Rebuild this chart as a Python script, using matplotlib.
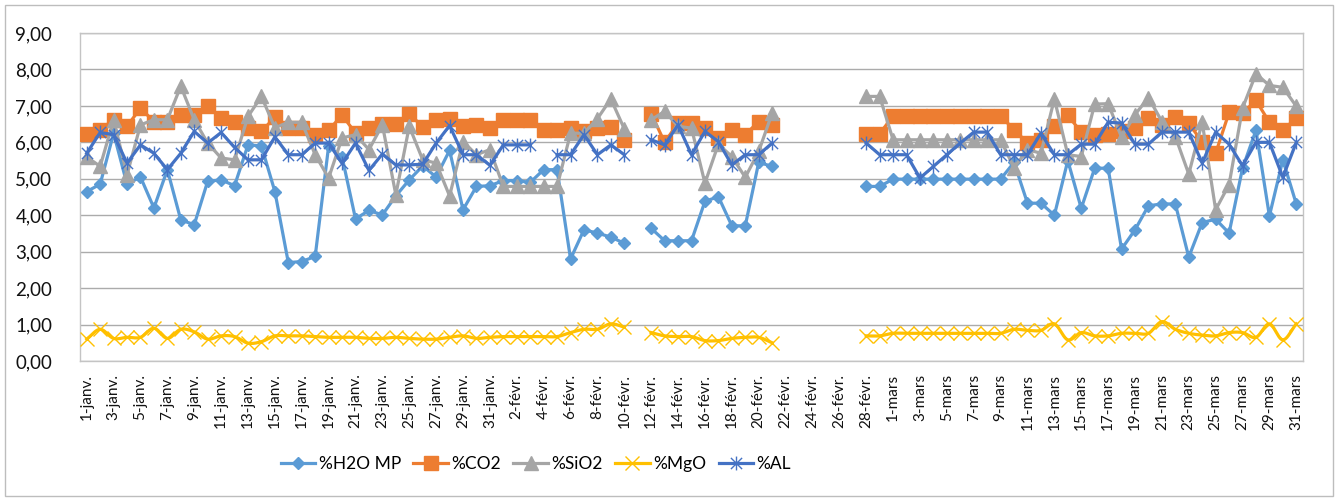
import numpy as np
import pandas as pd
import matplotlib
matplotlib.use("Agg")
import matplotlib.pyplot as plt
from matplotlib.path import Path
from matplotlib.patches import Rectangle
from matplotlib.lines import Line2D

plt.rcParams['font.family'] = ['Lato', 'DejaVu Sans']

nan = np.nan

# Daily categories, 1 Jan - 31 Mar 2024
dates = pd.date_range("2024-01-01", "2024-03-31", freq="D")
month_abbr = {1: "janv.", 2: "févr.", 3: "mars"}
day_labels = [f"{d.day}-{month_abbr[d.month]}" for d in dates]

h2o_mp = [4.65, 4.85, 6.25, 4.85, 5.05, 4.20, 5.25, 3.87, 3.74, 4.93,
          4.97, 4.81, 5.93, 5.90, 4.65, 2.70, 2.73, 2.87, 5.90, 5.60,
          3.90, 4.13, 4.01, 4.53, 4.97, 5.35, 5.05, 5.78, 4.15, 4.79,
          4.81, 4.95, 4.95, 4.90, 5.25, 5.25, 2.80, 3.60, 3.51, 3.40,
          3.23, nan, 3.64, 3.30, 3.30, 3.30, 4.38, 4.51, 3.71, 3.71,
          5.45, 5.34, nan, nan, nan, nan, nan, nan, 4.79, 4.79,
          4.99, 4.99, 4.99, 4.99, 4.99, 4.99, 4.99, 4.99, 4.99, 5.45,
          4.33, 4.33, 4.00, 5.50, 4.19, 5.29, 5.29, 3.07, 3.60, 4.26,
          4.31, 4.31, 2.85, 3.80, 3.89, 3.51, 5.29, 6.33, 3.98, 5.52,
          4.31]

co2 = [6.24, 6.35, 6.62, 6.44, 6.94, 6.57, 6.57, 6.76, 6.76, 6.99,
       6.67, 6.57, 6.40, 6.30, 6.69, 6.38, 6.38, 6.21, 6.33, 6.75,
       6.25, 6.39, 6.50, 6.50, 6.79, 6.42, 6.62, 6.64, 6.44, 6.48,
       6.39, 6.60, 6.60, 6.60, 6.35, 6.35, 6.39, 6.30, 6.39, 6.42,
       6.07, nan, 6.79, 6.00, 6.53, 6.53, 6.39, 6.12, 6.35, 6.21,
       6.57, 6.48, nan, nan, nan, nan, nan, nan, 6.24, 6.24,
       6.72, 6.72, 6.72, 6.72, 6.72, 6.72, 6.72, 6.72, 6.72, 6.35,
       5.98, 6.07, 6.44, 6.74, 6.28, 6.21, 6.23, 6.30, 6.40, 6.67,
       6.48, 6.69, 6.53, 6.00, 5.70, 6.82, 6.80, 7.15, 6.55, 6.33,
       6.67]

sio2 = [5.60, 5.34, 6.62, 5.11, 6.48, 6.62, 6.62, 7.54, 6.62, 5.98,
        5.57, 5.52, 6.71, 7.26, 6.40, 6.55, 6.55, 5.66, 5.02, 6.12,
        6.21, 5.80, 6.48, 4.56, 6.44, 5.52, 5.43, 4.53, 6.02, 5.66,
        5.80, 4.79, 4.79, 4.79, 4.79, 4.79, 6.25, 6.25, 6.65, 7.19,
        6.37, nan, 6.62, 6.85, 6.44, 6.39, 4.88, 5.95, 5.61, 5.04,
        5.75, 6.80, nan, nan, nan, nan, nan, nan, 7.26, 7.26,
        6.07, 6.07, 6.07, 6.07, 6.07, 6.07, 6.07, 6.07, 6.07, 5.30,
        5.80, 5.70, 7.19, 5.66, 5.61, 7.05, 7.06, 6.14, 6.76, 7.23,
        6.57, 6.16, 5.13, 6.55, 4.15, 4.84, 6.94, 7.88, 7.56, 7.51,
        6.99]

mgo = [0.60, 0.87, 0.62, 0.65, 0.65, 0.90, 0.62, 0.87, 0.80, 0.60,
       0.69, 0.67, 0.49, 0.53, 0.69, 0.69, 0.69, 0.67, 0.65, 0.65,
       0.65, 0.62, 0.62, 0.65, 0.62, 0.60, 0.60, 0.65, 0.69, 0.62,
       0.65, 0.67, 0.67, 0.67, 0.67, 0.67, 0.78, 0.87, 0.87, 1.02,
       0.93, nan, 0.78, 0.69, 0.67, 0.67, 0.56, 0.56, 0.62, 0.65,
       0.65, 0.50, nan, nan, nan, nan, nan, nan, 0.69, 0.69,
       0.76, 0.76, 0.76, 0.76, 0.76, 0.76, 0.76, 0.76, 0.76, 0.87,
       0.84, 0.84, 1.02, 0.58, 0.78, 0.69, 0.69, 0.76, 0.76, 0.76,
       1.08, 0.87, 0.76, 0.71, 0.69, 0.78, 0.78, 0.65, 1.02, 0.58,
       1.02]

al = [5.70, 6.27, 6.21, 5.43, 5.93, 5.70, 5.25, 5.70, 6.30, 5.98,
      6.27, 5.86, 5.52, 5.52, 6.15, 5.66, 5.66, 5.98, 5.98, 5.42,
      5.98, 5.23, 5.68, 5.38, 5.38, 5.40, 5.98, 6.46, 5.66, 5.66,
      5.37, 5.93, 5.93, 5.93, nan, 5.66, 5.66, 6.21, 5.66, 5.93,
      5.66, nan, 6.07, 5.93, 6.48, 5.66, 6.30, 6.02, 5.38, 5.66,
      5.66, 5.98, nan, nan, nan, nan, nan, nan, 5.98, 5.66,
      5.66, 5.66, 5.02, 5.34, 5.66, 5.98, 6.28, 6.28, 5.66, 5.66,
      5.66, 6.25, 5.66, 5.66, 5.95, 5.95, 6.55, 6.53, 5.95, 5.95,
      6.28, 6.28, 6.28, 5.43, 6.28, 5.95, 5.36, 6.00, 6.00, 5.04,
      6.00]

series_names = ["%H2O MP", "%CO2", "%SiO2", "%MgO", "%AL"]
colors = ["#5B9BD5", "#ED7D31", "#A5A5A5", "#FFC000", "#4472C4"]

# six-spoke asterisk marker (x plus vertical bar)
asterisk = Path([(-0.5, -0.5), (0.5, 0.5), (-0.5, 0.5), (0.5, -0.5), (0, -0.62), (0, 0.62)],
                [Path.MOVETO, Path.LINETO, Path.MOVETO, Path.LINETO, Path.MOVETO, Path.LINETO])


def smooth_segments(x, y, n=10):
    """Catmull-Rom smoothing applied to each run of valid points."""
    x = np.asarray(x, float)
    y = np.asarray(y, float)
    ok = ~np.isnan(y)
    out_x, out_y = [], []
    i = 0
    while i < len(y):
        if not ok[i]:
            i += 1
            continue
        j = i
        while j < len(y) and ok[j]:
            j += 1
        xs, ys = x[i:j], y[i:j]
        if len(xs) < 3:
            out_x += list(xs)
            out_y += list(ys)
        else:
            px = np.concatenate([[2 * xs[0] - xs[1]], xs, [2 * xs[-1] - xs[-2]]])
            py = np.concatenate([[2 * ys[0] - ys[1]], ys, [2 * ys[-1] - ys[-2]]])
            t = np.linspace(0, 1, n, endpoint=False)
            for k in range(1, len(px) - 2):
                for arr, res in ((px, out_x), (py, out_y)):
                    p0, p1, p2, p3 = arr[k - 1], arr[k], arr[k + 1], arr[k + 2]
                    res.extend(0.5 * ((2 * p1) + (-p0 + p2) * t +
                                      (2 * p0 - 5 * p1 + 4 * p2 - p3) * t ** 2 +
                                      (-p0 + 3 * p1 - 3 * p2 + p3) * t ** 3))
            out_x.append(xs[-1])
            out_y.append(ys[-1])
        out_x.append(nan)
        out_y.append(nan)
        i = j
    return np.array(out_x), np.array(out_y)


fig = plt.figure(figsize=(13.38, 5.01), dpi=100)
ax = fig.add_axes([80 / 1338, 140 / 501, 1223 / 1338, 328 / 501])

x = np.arange(len(dates))
lw = 2.3

styles = [
    dict(marker="D", ms=6.5, mfc=colors[0], mec=colors[0], mew=1),
    dict(marker="s", ms=9.5, mfc=colors[1], mec=colors[1], mew=1),
    dict(marker="^", ms=10, mfc=colors[2], mec=colors[2], mew=1),
    dict(marker="x", ms=10, mfc="none", mec=colors[3], mew=1.0),
    dict(marker=asterisk, ms=10, mfc="none", mec=colors[4], mew=1.0),
]

data = [h2o_mp, co2, sio2, mgo, al]
for k, (vals, col, st) in enumerate(zip(data, colors, styles)):
    vals = np.asarray(vals, float)
    if series_names[k] == "%MgO":
        sx, sy = smooth_segments(x, vals)
        ax.plot(sx, sy, color=col, lw=lw, solid_joinstyle="round", zorder=3 + k)
        ax.plot(x, vals, ls="none", zorder=3 + k, **st)
    else:
        ax.plot(x, vals, color=col, lw=lw, solid_joinstyle="round", zorder=3 + k, **st)

ax.set_xlim(-0.5, len(dates) - 0.5)
ax.set_ylim(0, 9)
ax.set_yticks(np.arange(0, 10, 1))
ax.set_yticklabels([f"{v:.2f}".replace(".", ",") for v in np.arange(0, 10, 1)])
ax.set_xticks(x[::2])
ax.set_xticklabels(day_labels[::2], rotation=90, va="top", ha="center")

ax.tick_params(axis="y", length=0, pad=20, labelsize=13.5, labelcolor="#111111")
ax.tick_params(axis="x", length=0, pad=9, labelsize=11, labelcolor="#111111")
ax.grid(axis="y", color="#ABABAB", lw=1.0, zorder=0)
ax.set_axisbelow(True)
for sp in ax.spines.values():
    sp.set_color("#C4C4C4")
    sp.set_linewidth(1.0)

handles = []
for col, st, name in zip(colors, styles, series_names):
    handles.append(Line2D([0], [0], color=col, lw=lw, label=name, **st))
fig.legend(handles=handles, loc="center", bbox_to_anchor=(536 / 1338, 37 / 501),
           ncol=5, frameon=False, fontsize=12.5, handlelength=2.0,
           handletextpad=0.2, columnspacing=0.7, markerscale=1.0)

fig.patches.append(Rectangle((5 / 1338, 5 / 501), 1328 / 1338, 491 / 501,
                             transform=fig.transFigure, fill=False,
                             edgecolor="#BDBDBD", lw=1.0))

fig.savefig("out.png", dpi=100)
